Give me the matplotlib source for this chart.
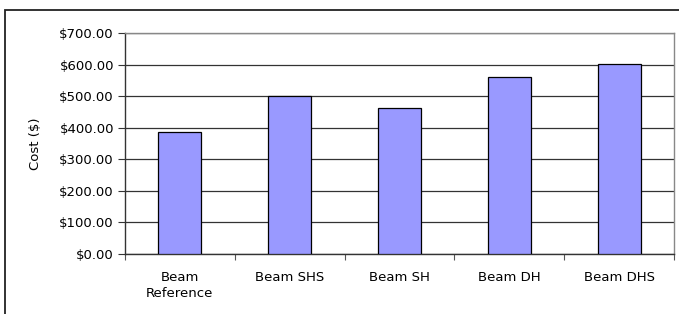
import matplotlib
matplotlib.use("Agg")
import matplotlib.pyplot as plt
from matplotlib.patches import Rectangle
from matplotlib.ticker import FuncFormatter, MultipleLocator

categories = ["Beam\nReference", "Beam SHS", "Beam SH", "Beam DH", "Beam DHS"]
costs = [386, 500, 461, 562, 603]

plt.rcParams['font.family'] = ['DejaVu Sans']
FS = 9.5

W, H = 679, 314
fig = plt.figure(figsize=(W/100, H/100), dpi=100)
fig.patch.set_facecolor('white')
fig.patches.append(Rectangle((5/W, -5/H), (W + 5)/W, (H - 10 + 5)/H, transform=fig.transFigure,
                             fill=False, edgecolor='#222222', linewidth=1.3))

left, right, top, bottom = 125, 674, 33, 254
ax = fig.add_axes([left/W, 1 - bottom/H, (right-left)/W, (bottom-top)/H])

x = list(range(len(categories)))
ax.bar(x, costs, width=0.39, color='#9999FF', edgecolor='black', linewidth=0.9, zorder=3)
ax.set_xlim(-0.5, len(categories) - 0.5)
ax.set_ylim(0, 700)
ax.yaxis.set_major_locator(MultipleLocator(100))
ax.yaxis.set_major_formatter(FuncFormatter(lambda v, p: f"${v:,.2f}"))
ax.grid(axis='y', color='#333333', linewidth=0.9, zorder=0)

ax.set_xticks([i + 0.5 for i in range(-1, len(categories))])
ax.set_xticklabels([])
ax.set_xticks(x, minor=True)
ax.set_xticklabels(categories, minor=True, fontsize=FS, linespacing=1.35)
ax.tick_params(axis='x', which='minor', length=0, pad=12)
ax.tick_params(axis='x', which='major', length=4, color='#555555', direction='out')
ax.tick_params(axis='y', length=5, labelsize=FS, color='#333333', pad=3)

for s in ['top', 'right']:
    ax.spines[s].set_color('#888888')
    ax.spines[s].set_linewidth(1.0)
for s in ['left', 'bottom']:
    ax.spines[s].set_color('#333333')
    ax.spines[s].set_linewidth(1.0)

ax.set_ylabel("Cost ($)", fontsize=FS)
ax.yaxis.set_label_coords((42 - left) / (right - left), 0.5)

fig.savefig("out.png", dpi=100)
